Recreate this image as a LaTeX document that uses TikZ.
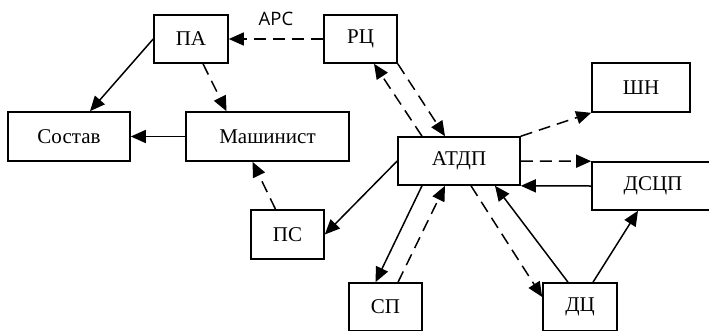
\documentclass[tikz,border=0pt]{standalone}
\usepackage{fontspec}
\setmainfont{Liberation Serif}
\newfontfamily\arsfont{Open Sans}
\usetikzlibrary{arrows.meta}
\usetikzlibrary{quotes}

\begin{document}
\begin{tikzpicture}[x=1pt,y=-1pt,
  every node/.style={font=\fontsize{21}{24}\selectfont},
  block/.style={draw,line width=1.6pt,inner sep=0pt,minimum height=48pt},
  every edge/.style={draw,line width=1.5pt,-{Triangle[length=15pt,width=13pt]}},
  dsh/.style={dash pattern=on 12pt off 7pt},
  every edge quotes/.style={font=\arsfont\fontsize{18.5}{21}\selectfont}]

      \useasboundingbox (0,0) rectangle (709,330);

      \node[block,minimum width=74pt]                       (pa)     at (191,39)     {ПА};
      \node[block,minimum width=73pt]                       (rc)     at (360.5,39)   {РЦ};
      \node[block,minimum width=122pt,minimum height=49pt]  (sostav) at (69,136.5)   {Состав};
      \node[block,minimum width=163pt,minimum height=49pt]  (mash)   at (267.5,136.5) {Машинист};
      \node[block,minimum width=122pt]                      (atdp)   at (459,161)    {АТДП};
      \node[block,minimum width=98pt,minimum height=49pt]   (shn)    at (641,87.5)   {ШН};
      \node[block,minimum width=122pt]                      (dscp)   at (653,186)    {ДСЦП};
      \node[block,minimum width=73pt,minimum height=49pt]   (ps)     at (287.5,234.5) {ПС};
      \node[block,minimum width=73pt]                       (sp)     at (385.5,307)  {СП};
      \node[block,minimum width=74pt]                       (dc)     at (580,307)    {ДЦ};


      \draw (rc.west) edge["АРС" {above=9pt},dsh]  (pa.east);
      \draw (pa.west) edge  ([xshift=21pt]sostav.north);
      \draw ([xshift=12pt]pa.south) edge[dsh]  ([xshift=-41pt]mash.north);
      \draw (mash.west) edge  (sostav.east);
      \draw ([xshift=-12pt]ps.north) edge[dsh]  ([xshift=-15pt]mash.south);
      \draw (atdp.west) edge  (ps.east);
      \draw ([xshift=-37pt]atdp.north) edge[dsh]  ([xshift=13.5pt]rc.south);
      \draw (rc.south east) edge[dsh]  ([xshift=-14pt]atdp.north);
      \draw (atdp.north east) edge[dsh]  (shn.south west);
      \draw (atdp.east) edge[dsh]  (dscp.north west);
      \draw (dscp.west) edge  (atdp.south east);
      \draw ([xshift=-37pt]atdp.south) edge  ([xshift=-10pt]sp.north);
      \draw ([xshift=12.5pt]sp.north) edge[dsh]  ([xshift=-14pt]atdp.south);
      \draw ([xshift=12pt]atdp.south) edge[dsh]  ([yshift=10pt]dc.west);
      \draw ([xshift=-12pt]dc.north) edge  ([xshift=36pt]atdp.south);
      \draw ([xshift=13pt]dc.north) edge  ([xshift=-15pt]dscp.south);
    \end{tikzpicture}
\end{document}
